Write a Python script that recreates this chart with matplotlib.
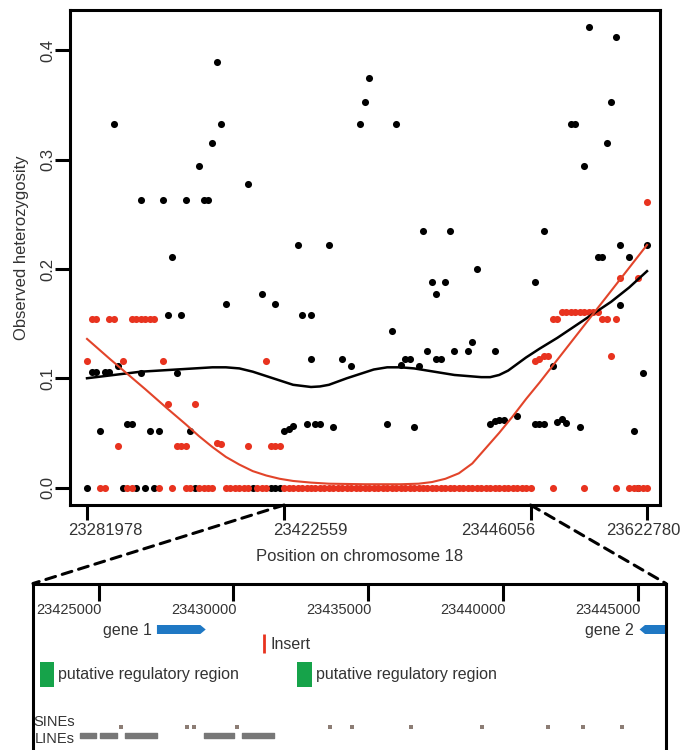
import matplotlib
matplotlib.use("Agg")
import matplotlib.pyplot as plt
from matplotlib.patches import FancyArrow, Rectangle, ConnectionPatch
from matplotlib.transforms import ScaledTranslation

plt.rcParams['font.family'] = ['Liberation Sans', 'DejaVu Sans']

# --- upper panel: heterozygosity per SNP (x = SNP rank) ---
snp_tick_idx = [0, 44, 99, 125]
snp_tick_labels = ['23281978', '23422559', '23446056', '23622780']

black_x = [
    0, 1, 2, 3, 4, 5, 6, 7, 8, 9, 10, 11, 12, 12, 13, 14, 15, 16, 17, 18,
    19, 20, 21, 22, 23, 24, 25, 26, 27, 28, 29, 30, 31, 36, 37, 39, 41, 42, 42, 43,
    44, 45, 46, 47, 48, 49, 50, 50, 51, 52, 54, 55, 57, 59, 61, 62, 63, 67, 68, 69,
    70, 71, 72, 73, 74, 75, 76, 77, 78, 78, 79, 80, 81, 82, 85, 86, 87, 90, 91, 91,
    92, 93, 96, 100, 100, 101, 102, 102, 104, 105, 106, 107, 108, 109, 110, 111, 112, 114, 115, 116,
    117, 118, 119, 119, 121, 122, 123, 124, 125,
]
black_y = [
    0.0, 0.106, 0.106, 0.052, 0.106, 0.106, 0.333, 0.111, 0.0, 0.058,
    0.058, 0.0, 0.105, 0.263, 0.0, 0.052, 0.0, 0.052, 0.263, 0.158,
    0.211, 0.105, 0.158, 0.263, 0.052, 0.0, 0.294, 0.263, 0.263, 0.315,
    0.389, 0.333, 0.168, 0.278, 0.0, 0.177, 0.0, 0.0, 0.168, 0.0,
    0.052, 0.054, 0.056, 0.222, 0.158, 0.058, 0.158, 0.118, 0.058, 0.058,
    0.222, 0.055, 0.118, 0.111, 0.333, 0.353, 0.375, 0.058, 0.143, 0.333,
    0.112, 0.118, 0.118, 0.055, 0.111, 0.235, 0.125, 0.188, 0.118, 0.177,
    0.118, 0.188, 0.235, 0.125, 0.125, 0.133, 0.200, 0.058, 0.061, 0.125,
    0.062, 0.062, 0.065, 0.188, 0.058, 0.058, 0.058, 0.235, 0.111, 0.060,
    0.063, 0.059, 0.333, 0.333, 0.055, 0.294, 0.421, 0.211, 0.211, 0.315,
    0.353, 0.412, 0.222, 0.167, 0.211, 0.052, 0.0, 0.105, 0.222,
]

red_x = [
    0, 1, 2, 3, 4, 5, 6, 7, 8, 9, 10, 10, 11, 12, 13, 14, 15, 16, 17, 18,
    19, 20, 21, 22, 22, 23, 24, 25, 26, 27, 28, 29, 30, 31, 32, 33, 34, 35, 36, 36,
    38, 39, 40, 40, 41, 42, 43, 44, 45, 46, 47, 48, 49, 50, 51, 52, 53, 54, 55, 56,
    57, 58, 59, 60, 61, 62, 63, 64, 65, 66, 67, 68, 69, 70, 71, 72, 73, 74, 75, 76,
    77, 78, 79, 80, 81, 82, 83, 84, 85, 86, 87, 88, 89, 90, 91, 92, 93, 94, 95, 96,
    97, 98, 99, 100, 101, 102, 103, 104, 104, 105, 106, 107, 108, 109, 110, 111, 111, 112, 113, 114,
    115, 116, 117, 118, 118, 119, 121, 122, 123, 123, 124, 125, 125,
]
red_y = [
    0.116, 0.154, 0.154, 0.0, 0.0, 0.154, 0.154, 0.038, 0.116, 0.0,
    0.0, 0.154, 0.154, 0.154, 0.154, 0.154, 0.154, 0.0, 0.116, 0.076,
    0.0, 0.038, 0.038, 0.038, 0.0, 0.0, 0.076, 0.0, 0.0, 0.0,
    0.0, 0.041, 0.040, 0.0, 0.0, 0.0, 0.0, 0.0, 0.0, 0.038,
    0.0, 0.0, 0.0, 0.116, 0.038, 0.038, 0.038, 0.0, 0.0, 0.0,
    0.0, 0.0, 0.0, 0.0, 0.0, 0.0, 0.0, 0.0, 0.0, 0.0,
    0.0, 0.0, 0.0, 0.0, 0.0, 0.0, 0.0, 0.0, 0.0, 0.0,
    0.0, 0.0, 0.0, 0.0, 0.0, 0.0, 0.0, 0.0, 0.0, 0.0,
    0.0, 0.0, 0.0, 0.0, 0.0, 0.0, 0.0, 0.0, 0.0, 0.0,
    0.0, 0.0, 0.0, 0.0, 0.0, 0.0, 0.0, 0.0, 0.0, 0.0,
    0.0, 0.0, 0.0, 0.116, 0.118, 0.120, 0.120, 0.0, 0.154, 0.154,
    0.161, 0.161, 0.161, 0.161, 0.161, 0.0, 0.161, 0.161, 0.161, 0.161,
    0.154, 0.154, 0.120, 0.0, 0.154, 0.192, 0.0, 0.0, 0.0, 0.192,
    0.0, 0.0, 0.261,
]

# smoothed trends
black_fit_x = [0, 4, 8, 12, 16, 20, 24, 28, 31, 34, 37, 40, 43, 46, 48, 50, 52, 54,
               56, 58, 61, 64, 67, 70, 73, 76, 79, 82, 85, 88, 90, 92, 94, 96, 98,
               101, 105, 109, 113, 117, 121, 125]
black_fit_y = [0.100, 0.102, 0.104, 0.106, 0.107, 0.108, 0.109, 0.110, 0.110, 0.109,
               0.106, 0.102, 0.098, 0.094, 0.093, 0.092, 0.0925, 0.094, 0.097, 0.100,
               0.104, 0.108, 0.110, 0.110, 0.109, 0.107, 0.105, 0.103, 0.102, 0.101,
               0.101, 0.103, 0.107, 0.113, 0.119, 0.127, 0.137, 0.148, 0.159, 0.170,
               0.183, 0.198]
red_fit_x = [0, 5, 9, 13, 18, 22, 25, 28, 31, 34, 37, 40, 43, 46, 50, 54, 62, 70,
             74, 77, 80, 83, 86, 89, 92, 95, 98, 101, 105, 109, 113, 117, 121, 125]
red_fit_y = [0.136, 0.118, 0.104, 0.090, 0.072, 0.058, 0.047, 0.037, 0.028, 0.021,
             0.015, 0.011, 0.008, 0.006, 0.0045, 0.0035, 0.003, 0.003, 0.0035, 0.005,
             0.008, 0.013, 0.022, 0.036, 0.050, 0.065, 0.081, 0.096, 0.117, 0.138,
             0.159, 0.180, 0.201, 0.222]

# --- lower panel: annotation of the zoomed region ---
zoom_start, zoom_end = 23422559, 23446056
zoom_ticks = [23425000, 23430000, 23435000, 23440000, 23445000]
gene_names = ['gene 1', 'gene 2']
gene_start = [23427160, 23445075]
gene_end = [23428970, 23446400]
gene_strand = [1, -1]
insert_pos = 23431150
reg_start = [23422820, 23432355]
reg_end = [23423345, 23432925]
sine_pos = [23425820, 23428280, 23428550, 23430120, 23433600, 23434410,
            23436590, 23439240, 23441670, 23442980, 23444430]
line_start = [23424290, 23425045, 23425975, 23428895, 23430310]
line_end = [23424890, 23425680, 23427160, 23430010, 23431500]

RED = '#e8331f'
BLUE = '#1f78c4'
GREEN = '#16a34a'

fig = plt.figure(figsize=(6.84, 7.5), dpi=100)
ax = fig.add_axes([70 / 684, 245 / 750, 590 / 684, 495 / 750])

ax.scatter(black_x, black_y, s=26, color='black', linewidths=0, zorder=2)
ax.scatter(red_x, red_y, s=26, color=RED, linewidths=0, zorder=3)
ax.plot(black_fit_x, black_fit_y, color='black', lw=1.8, zorder=4,
        solid_joinstyle='round')
ax.plot(red_fit_x, red_fit_y, color='#e2442a', lw=1.5, zorder=5,
        solid_joinstyle='round')

ax.set_xlim(-3.8, 127.9)
ax.set_ylim(-0.016, 0.437)
for sp in ax.spines.values():
    sp.set_linewidth(2.2)

ax.set_xticks(snp_tick_idx)
ax.set_xticklabels(snp_tick_labels, fontsize=12, color='#333333')
ax.tick_params(axis='x', direction='out', length=10.8, width=2.2, pad=2)
label_shift = [18, 26, -32, -4]
for lab, dx in zip(ax.get_xticklabels(), label_shift):
    lab.set_transform(lab.get_transform() + ScaledTranslation(dx / 100, 0, fig.dpi_scale_trans))

ax.set_yticks([0.0, 0.1, 0.2, 0.3, 0.4])
ax.set_yticklabels(['0.0', '0.1', '0.2', '0.3', '0.4'], fontsize=12,
                   rotation=90, va='center', color='#333333')
ax.tick_params(axis='y', direction='out', length=10.8, width=2.2, pad=0)

ax.set_ylabel('Observed heterozygosity', fontsize=12, color='#333333')
ax.yaxis.set_label_coords(-0.070, 0.52)
ax.set_xlabel('Position on chromosome 18', fontsize=12, color='#333333')
ax.xaxis.set_label_coords(0.4915, -0.088)

# --- lower panel ---
ax2 = fig.add_axes([33 / 684, -10 / 750, 633 / 684, 176.5 / 750])
ax2.set_xlim(zoom_start, zoom_end)
ax2.set_ylim(176.5, 0)
for sp in ax2.spines.values():
    sp.set_linewidth(2.2)
ax2.set_yticks([])
ax2.set_xticks(zoom_ticks)
ax2.tick_params(axis='x', top=True, bottom=False, labeltop=True, labelbottom=False,
                direction='in', length=12, width=2.2, pad=-19)
ax2.set_xticklabels([str(t) for t in zoom_ticks], fontsize=10.5, ha='right',
                    va='center', color='#333333')
for tick in ax2.xaxis.get_major_ticks():
    tick.label2.set_transform(tick.label2.get_transform() + ScaledTranslation(3 / 100, 0, fig.dpi_scale_trans))

gene_y, gene_h = 46, 9
for name, g0, g1, strand in zip(gene_names, gene_start, gene_end, gene_strand):
    x0 = g0 if strand > 0 else g1
    arr = FancyArrow(x0, gene_y, strand * (g1 - g0), 0, width=gene_h, head_width=gene_h,
                     head_length=200, length_includes_head=True, color=BLUE, lw=0)
    ax2.add_patch(arr)
    ax2.annotate(name, (g0, gene_y + 1.5), xytext=(-4, 0), textcoords='offset points',
                 ha='right', va='center', fontsize=11.5, color='#333333')

ax2.plot([insert_pos, insert_pos], [50.5, 69.5], color=RED, lw=2, solid_capstyle='butt')
ax2.annotate('Insert', (insert_pos, 61), xytext=(4.5, 0), textcoords='offset points',
             ha='left', va='center', fontsize=11.5, color='#333333')

for r0, r1 in zip(reg_start, reg_end):
    ax2.add_patch(Rectangle((r0, 78), r1 - r0, 25, color=GREEN, lw=0))
    ax2.annotate('putative regulatory region', (r1, 91.5), xytext=(2.5, 0),
                 textcoords='offset points', ha='left', va='center',
                 fontsize=11.5, color='#333333')

ax2.plot(sine_pos, [143] * len(sine_pos), 's', ms=2.2, color='#8c7d75', mew=0)
ax2.broken_barh([(a, b - a) for a, b in zip(line_start, line_end)], (149.5, 5),
                color='#777777')
ax2.text(0.0, 138, 'SINEs', transform=ax2.get_yaxis_transform(), fontsize=10.5,
         ha='left', va='center', color='#333333')
ax2.text(0.003, 155.5, 'LINEs', transform=ax2.get_yaxis_transform(), fontsize=10.5,
         ha='left', va='center', color='#333333')

# dashed lines linking the zoomed interval to the lower panel
y_bottom = ax.get_ylim()[0]
for idx, corner in zip([snp_tick_idx[1], snp_tick_idx[2]], [(0, 1), (1, 1)]):
    con = ConnectionPatch(xyA=(idx, y_bottom), coordsA=ax.transData,
                          xyB=corner, coordsB=ax2.transAxes,
                          color='black', lw=2.2, linestyle=(0, (3.3, 2.3)))
    fig.add_artist(con)

fig.savefig('out.png', dpi=100)
